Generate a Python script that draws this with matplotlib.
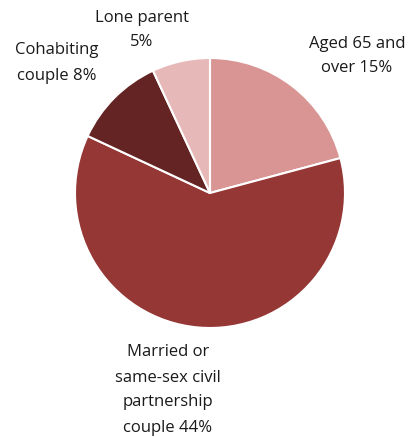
import matplotlib
matplotlib.use("Agg")
import matplotlib.pyplot as plt

categories = ["Aged 65 and\nover 15%", "Married or\nsame-sex civil\npartnership\ncouple 44%",
              "Cohabiting\ncouple 8%", "Lone parent\n5%"]
values = [15, 44, 8, 5]
colors = ["#D99594", "#953735", "#632423", "#E6B9B8"]
label_pos = [(357, 56), (168, 390), (57, 63), (142, 30)]

W, H = 412, 437
fig = plt.figure(figsize=(W / 100, H / 100), dpi=100)
ax = fig.add_axes([0, 0, 1, 1])

ax.pie(values, colors=colors, startangle=90, counterclock=False,
       center=(210, H - 193), radius=135, frame=True,
       wedgeprops=dict(edgecolor="white", linewidth=1.5))
ax.set_xlim(0, W)
ax.set_ylim(0, H)
ax.set_aspect("equal")
ax.axis("off")

for lab, (x, y) in zip(categories, label_pos):
    ax.text(x, H - y, lab, ha="center", va="center", fontsize=12,
            family="Open Sans", color="#1a1a1a", linespacing=1.75)

fig.savefig("out.png", dpi=100)
